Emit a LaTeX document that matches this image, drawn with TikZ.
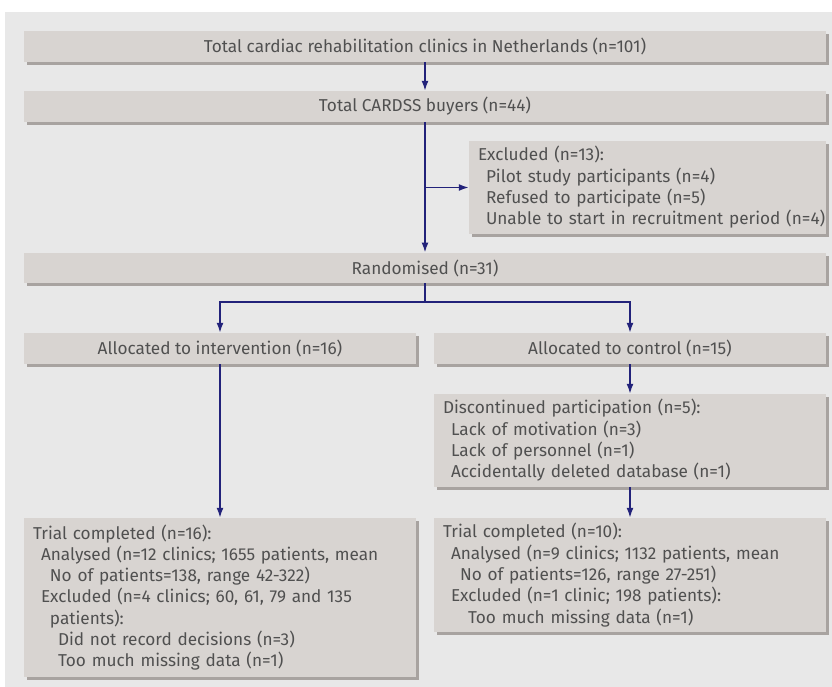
\documentclass[tikz,border=0pt]{standalone}
\usepackage{fontspec}
\setmainfont{Fira Sans}
\usetikzlibrary{arrows.meta,shadows}
\definecolor{panelc}{HTML}{E8E8E8}
\definecolor{boxc}{HTML}{D8D4D1}
\definecolor{shadowc}{HTML}{A8A3A0}
\definecolor{textc}{HTML}{505050}
\definecolor{arrc}{HTML}{22227A}
\newcommand\myind[1]{\hspace*{#1pt}}
\begin{document}
\begin{tikzpicture}[x=1pt,y=-1pt,
  box/.style={fill=boxc, draw=none, text=textc, inner xsep=9pt, inner ysep=0pt,
    font={\fontsize{17.2}{21.3}\selectfont},
    drop shadow={shadow xshift=3pt, shadow yshift=-3pt, fill=shadowc, opacity=1}},
  mbox/.style={box, align=left},
  conn/.style={draw=arrc, line width=1.6pt},
  arr/.style={conn, -{Latex[length=10pt,width=7pt]}}]
\useasboundingbox (0,0) rectangle (832,687);
\fill[panelc] (5,12) rectangle (832,687);

\node[box, minimum width=802pt, minimum height=31pt] (b1) at (425,46.5)
  {Total cardiac rehabilitation clinics in Netherlands (n=101)};
\node[box, minimum width=802pt, minimum height=31pt] (b2) at (425,106.5)
  {Total CARDSS buyers (n=44)};
\node[mbox, minimum width=357pt, minimum height=93pt, text width=339pt] (excl) at (647.5,187.5)
  {Excluded (n=13):\\
   \myind{8}Pilot study participants (n=4)\\
   \myind{8}Refused to participate (n=5)\\
   \myind{8}\mbox{Unable to start in recruitment period (n=4)}};
\node[box, minimum width=802pt, minimum height=30.5pt] (rand) at (425,268)
  {Randomised (n=31)};
\node[box, minimum width=392pt, minimum height=31pt] (allocL) at (220,348.5)
  {Allocated to intervention (n=16)};
\node[box, minimum width=392pt, minimum height=31pt] (allocR) at (630,348.5)
  {Allocated to control (n=15)};
\node[mbox, minimum width=392pt, minimum height=93pt, text width=374pt] (disc) at (630,440.5)
  {Discontinued participation (n=5):\\
   \myind{8}Lack of motivation (n=3)\\
   \myind{8}Lack of personnel (n=1)\\
   \myind{8}Accidentally deleted database (n=1)};
\node[mbox, minimum width=392pt, minimum height=159pt, text width=374pt] (trialL) at (220,597.5)
  {Trial completed (n=16):\\
   \myind{8}Analysed (n=12 clinics; 1655 patients, mean\\
   \myind{17}No of patients=138, range 42-322)\\
   \myind{8}Excluded (n=4 clinics; 60, 61, 79 and 135\\
   \myind{17}patients):\\
   \myind{25}Did not record decisions (n=3)\\
   \myind{25}Too much missing data (n=1)};
\node[mbox, minimum width=392pt, minimum height=114pt, text width=374pt] (trialR) at (630,575)
  {Trial completed (n=10):\\
   \myind{8}Analysed (n=9 clinics; 1132 patients, mean\\
   \myind{17}No of patients=126, range 27-251)\\
   \myind{8}Excluded (n=1 clinic; 198 patients):\\
   \myind{25}Too much missing data (n=1)};

\coordinate (split) at (425,302);
\draw[arr] (b1.south) -- (b2.north);
\draw[arr] (b2.south) -- (rand.north);
\draw[arr] (b2.south |- excl.west) -- (excl.west);
\draw[conn] (rand.south) -- (split);
\draw[arr] (split) -| (allocL.north);
\draw[arr] (split) -| (allocR.north);
\draw[arr] (allocL.south) -- (trialL.north);
\draw[arr] (allocR.south) -- (disc.north);
\draw[arr] (disc.south) -- (trialR.north);
\end{tikzpicture}
\end{document}
